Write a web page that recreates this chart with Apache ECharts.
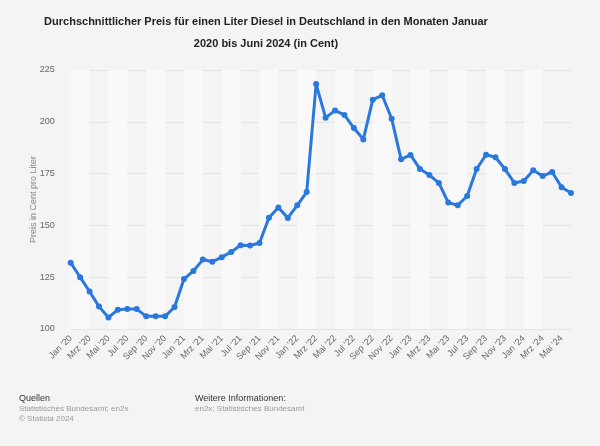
<!DOCTYPE html>
<html><head><meta charset="utf-8">
<script src="https://cdn.jsdelivr.net/npm/echarts@6/dist/echarts.min.js"></script>
<style>html,body{margin:0;padding:0;background:#f4f4f4;}#c{width:600px;height:446px;}</style>
</head><body><div id="c"></div>
<script>
const monthNames = ["Jan","Feb","Mrz","Apr","Mai","Jun","Jul","Aug","Sep","Okt","Nov","Dez"];
const years = ["20","21","22","23","24"];
const categories = [];
years.forEach(y => monthNames.forEach(m => categories.push(m + " '" + y)));
categories.length = 54;

const prices = [
  132, 125, 118.1, 110.8, 105.6, 109.3, 109.6, 109.6, 106.1, 106.1, 106.1, 110.6,
  124.1, 128, 133.5, 132.5, 134.6, 137.2, 140.4, 140.3, 141.5, 153.7, 158.6, 153.6,
  159.7, 166.1, 218.2, 202, 205.4, 203.3, 197, 191.5, 210.7, 212.8, 201.5, 181.9,
  184, 177.2, 174.3, 170.5, 161, 159.7, 164.2, 177.2, 184.1, 182.9, 177.2, 170.5,
  171.4, 176.6, 173.8, 175.8, 168.4, 165.6
];
const yTicks = [100, 125, 150, 175, 200, 225];

const chart = echarts.init(document.getElementById('c'), null, {renderer:'canvas'});
chart.setOption({
  backgroundColor: '#f4f4f4',
  animation: false,
  title: {
    text: 'Durchschnittlicher Preis für einen Liter Diesel in Deutschland in den Monaten Januar\n2020 bis Juni 2024 (in Cent)',
    left: 261, top: 6, textAlign: 'center',
    textStyle: {fontFamily: 'Liberation Sans, Arial', fontSize: 11, fontWeight: 'bold', color: '#222', lineHeight: 22}
  },
  grid: {left: 70.7, right: 29, top: 70, bottom: 117},
  xAxis: {
    type: 'category', data: categories, boundaryGap: false,
    axisLine: {show: false}, axisTick: {show: false},
    axisLabel: {interval: 1, rotate: 45, color: '#666', fontSize: 9, fontFamily: 'Liberation Sans, Arial', margin: 8},
    splitLine: {show: false},
    splitArea: {show: true, interval: 1, areaStyle: {color: ['#f9f9f9', 'rgba(0,0,0,0)']}}
  },
  yAxis: {
    type: 'value', min: yTicks[0], max: yTicks[yTicks.length-1], interval: 25,
    name: 'Preis in Cent pro Liter', nameLocation: 'middle', nameGap: 33, nameMoveOverlap: false,
    nameTextStyle: {color: '#888', fontSize: 9, fontFamily: 'Liberation Sans, Arial'},
    axisLine: {show: false}, axisTick: {show: false},
    axisLabel: {color: '#666', fontSize: 9, fontFamily: 'Liberation Sans, Arial', margin: 16},
    splitLine: {lineStyle: {color: '#e4e4e4', width: 1}}
  },
  series: [{
    type: 'line', data: prices,
    lineStyle: {color: '#2a78de', width: 3},
    itemStyle: {color: '#2a78de'},
    symbol: 'circle', symbolSize: 6, showSymbol: true
  }],
  graphic: [
    {type: 'text', left: 19, top: 394, style: {text: 'Quellen', fill: '#333', font: '9px Liberation Sans, Arial'}},
    {type: 'text', left: 19, top: 405, style: {text: 'Statistisches Bundesamt; en2x', fill: '#999', font: '8px Liberation Sans, Arial'}},
    {type: 'text', left: 19, top: 415, style: {text: '© Statista 2024', fill: '#999', font: '8px Liberation Sans, Arial'}},
    {type: 'text', left: 195, top: 394, style: {text: 'Weitere Informationen:', fill: '#333', font: '9px Liberation Sans, Arial'}},
    {type: 'text', left: 195, top: 405, style: {text: 'en2x; Statistisches Bundesamt', fill: '#999', font: '8px Liberation Sans, Arial'}}
  ]
});
</script></body></html>
